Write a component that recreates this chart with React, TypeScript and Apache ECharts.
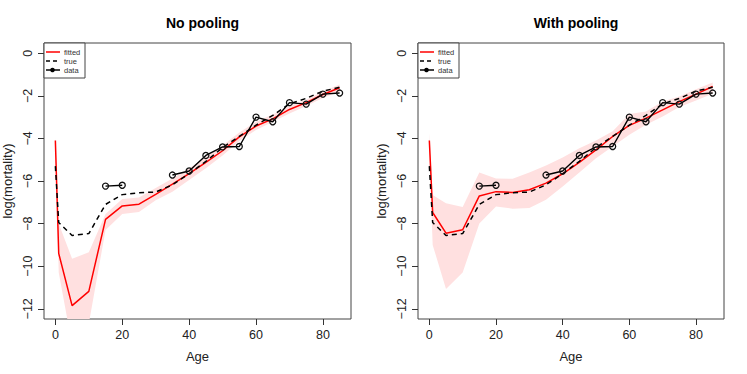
import React, { useEffect, useRef } from "react";
import * as echarts from "echarts";

// ---- data ----
const ages = [0, 1, 5, 10, 15, 20, 25, 30, 35, 40, 45, 50, 55, 60, 65, 70, 75, 80, 85];
const observed: (number | null)[] = [null, null, null, null, -6.24, -6.2, null, null, -5.72, -5.53, -4.8, -4.4, -4.38, -3.0, -3.22, -2.32, -2.39, -1.92, -1.87];
const trueVals = [-5.3, -7.95, -8.56, -8.47, -7.1, -6.64, -6.55, -6.52, -6.18, -5.66, -5.08, -4.43, -3.9, -3.38, -2.92, -2.38, -2.12, -1.78, -1.6];
const fittedNoPool = [-4.1, -9.4, -11.85, -11.18, -7.8, -7.17, -7.09, -6.63, -6.15, -5.65, -5.13, -4.58, -3.93, -3.42, -3.08, -2.64, -2.32, -1.94, -1.62];
const lowerNoPool = [-4.3, -10.3, -13.7, -12.7, -8.3, -7.55, -7.45, -6.9, -6.5, -5.95, -5.4, -4.8, -4.12, -3.6, -3.22, -2.83, -2.48, -2.1, -1.8];
const upperNoPool = [-3.95, -8.0, -9.65, -9.35, -7.55, -6.85, -6.78, -6.33, -5.88, -5.4, -4.88, -4.33, -3.72, -3.22, -2.88, -2.48, -2.18, -1.8, -1.47];
const fittedPool = [-4.1, -7.48, -8.45, -8.29, -6.7, -6.5, -6.54, -6.41, -6.1, -5.66, -5.13, -4.54, -3.91, -3.39, -3.05, -2.66, -2.27, -1.92, -1.56];
const lowerPool = [-4.6, -9.0, -11.07, -10.3, -8.0, -7.2, -7.3, -7.27, -6.88, -6.26, -5.6, -4.93, -4.38, -3.83, -3.36, -2.97, -2.53, -2.22, -1.9];
const upperPool = [-3.75, -6.66, -7.05, -7.22, -5.6, -5.88, -5.9, -5.6, -5.27, -4.9, -4.46, -4.1, -3.66, -2.85, -2.74, -2.27, -2.03, -1.69, -1.38];
const xTicks = [0, 20, 40, 60, 80];
const yTicks = [0, -2, -4, -6, -8, -10, -12];
const titles = ["No pooling", "With pooling"];
const legendLabels = ["fitted", "true", "data"];

const FONT = "Liberation Sans";
const grids = [
  { left: 44, top: 43, width: 307, height: 276 },
  { left: 418, top: 43, width: 306, height: 276 },
];

const fmtY = (v: number) => (v < 0 ? "\u2212" + String(-v) : String(v));

function bandSeries(idx: number, lower: number[], upper: number[]) {
  const data = ages.map((a, i) => [a, lower[i], upper[i]]);
  return {
    type: "custom", xAxisIndex: idx, yAxisIndex: idx, silent: true, z: 1,
    data,
    encode: { x: 0, y: [1, 2] },
    renderItem: (params: any, api: any) => {
      if (params.dataIndex !== 0) return { type: "group", children: [] };
      const top = data.map((d) => api.coord([d[0], d[2]]));
      const bottom = data.map((d) => api.coord([d[0], d[1]])).reverse();
      const cs = params.coordSys;
      return {
        type: "group",
        clipPath: { type: "rect", shape: { x: cs.x, y: cs.y, width: cs.width, height: cs.height } },
        children: [
          {
            type: "polygon",
            shape: { points: top.concat(bottom) },
            style: { fill: "#ffe0e0", stroke: "none" },
          },
        ],
      };
    },
  };
}

function panelSeries(idx: number, fitted: number[], lower: number[], upper: number[]) {
  return [
    bandSeries(idx, lower, upper),
    {
      name: "fitted", type: "line", xAxisIndex: idx, yAxisIndex: idx, symbol: "none", z: 3,
      lineStyle: { color: "#ff0000", width: 1.5 },
      data: ages.map((a, i) => [a, fitted[i]]),
    },
    {
      name: "true", type: "line", xAxisIndex: idx, yAxisIndex: idx, symbol: "none", z: 4,
      lineStyle: { color: "#000", width: 1.5, type: [5, 4] },
      data: ages.map((a, i) => [a, trueVals[i]]),
    },
    {
      name: "data", type: "line", xAxisIndex: idx, yAxisIndex: idx, z: 5,
      symbol: "circle", symbolSize: 6, showAllSymbol: true, connectNulls: false,
      lineStyle: { color: "#000", width: 1.4 },
      itemStyle: { color: "rgba(0,0,0,0)", borderColor: "#111", borderWidth: 1.3 },
      data: ages.map((a, i) => [a, observed[i]]),
    },
  ];
}

function legendGraphic(x0: number) {
  const y0 = 43;
  const rows = [52, 61, 70];
  const els: any[] = [
    { type: "rect", shape: { x: x0, y: y0, width: 41, height: 35 }, style: { fill: "#fff", stroke: "#444", lineWidth: 1 }, z: 100 },
    { type: "line", shape: { x1: x0 + 2, y1: rows[0], x2: x0 + 16, y2: rows[0] }, style: { stroke: "#ff0000", lineWidth: 1.5 }, z: 101 },
    { type: "line", shape: { x1: x0 + 2, y1: rows[1], x2: x0 + 16, y2: rows[1] }, style: { stroke: "#000", lineWidth: 1.5, lineDash: [4, 3] }, z: 101 },
    { type: "line", shape: { x1: x0 + 2, y1: rows[2], x2: x0 + 16, y2: rows[2] }, style: { stroke: "#000", lineWidth: 1.5 }, z: 101 },
    { type: "circle", shape: { cx: x0 + 8.5, cy: rows[2], r: 2.3 }, style: { fill: "#000" }, z: 102 },
  ];
  legendLabels.forEach((t, i) => {
    els.push({
      type: "text", x: x0 + 20, y: rows[i], z: 102,
      style: { text: t, font: `7.5px '${FONT}'`, fill: "#333", verticalAlign: "middle", align: "left" },
    });
  });
  return els;
}

export default function App() {
  const ref = useRef<HTMLDivElement>(null);
  useEffect(() => {
    if (!ref.current) return;
    const chart = echarts.init(ref.current, undefined, { renderer: "svg" });
    const tickStyle = { show: true, length: 6, lineStyle: { color: "#333", width: 1 } };
    const xAxes = [0, 1].map((i) => ({
      type: "value", gridIndex: i, min: -3.4, max: 88.4,
      axisLine: { show: false, onZero: false },
      splitLine: { show: false },
      axisTick: { ...tickStyle, customValues: xTicks },
      axisLabel: { customValues: xTicks, margin: 9, fontFamily: FONT, fontSize: 12.5, color: "#222" },
      name: "Age", nameLocation: "middle", nameGap: 31,
      nameTextStyle: { fontFamily: FONT, fontSize: 13, color: "#222" },
    }));
    const yAxes = [0, 1].map((i) => ({
      type: "value", gridIndex: i, min: -12.48, max: 0.48,
      axisLine: { show: false, onZero: false },
      splitLine: { show: false },
      axisTick: { ...tickStyle, customValues: yTicks },
      axisLabel: { customValues: yTicks, margin: 10, rotate: 90, formatter: fmtY, fontFamily: FONT, fontSize: 12.5, color: "#222" },
      name: "log(mortality)", nameLocation: "middle", nameGap: 30,
      nameTextStyle: { fontFamily: FONT, fontSize: 13, color: "#222" },
    }));
    chart.setOption({
      animation: false,
      backgroundColor: "#fff",
      title: titles.map((t, i) => ({
        text: t,
        left: grids[i].left + grids[i].width / 2,
        top: 11,
        textAlign: "center",
        textStyle: { fontFamily: FONT, fontSize: 14, fontWeight: "bold", color: "#000" },
      })),
      grid: grids.map((g) => ({ ...g, show: true, borderColor: "#444", borderWidth: 1, backgroundColor: "transparent", containLabel: false })),
      xAxis: xAxes,
      yAxis: yAxes,
      series: [
        ...panelSeries(0, fittedNoPool, lowerNoPool, upperNoPool),
        ...panelSeries(1, fittedPool, lowerPool, upperPool),
      ],
      graphic: [...legendGraphic(44), ...legendGraphic(418)],
    });
    return () => chart.dispose();
  }, []);
  return (
    <div
      ref={ref}
      style={{ position: "fixed", left: 0, top: 0, width: 747, height: 374, background: "#fff" }}
    />
  );
}
